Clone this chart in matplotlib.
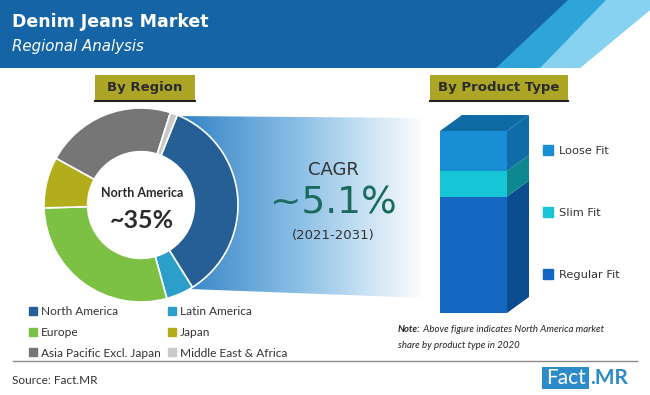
import numpy as np
import matplotlib.pyplot as plt
from matplotlib.patches import Polygon, Rectangle
from matplotlib.lines import Line2D
from matplotlib.colors import LinearSegmentedColormap

# data
regions = ['North America', 'Latin America', 'Europe', 'Japan',
           'Asia Pacific Excl. Japan', 'Middle East & Africa']
region_share = [35.0, 4.6, 28.8, 8.5, 21.9, 1.2]
region_colors = ['#265e96', '#2b9fc9', '#7cc143', '#b3ad1b', '#767676', '#c9c9c9']

products = ['Regular Fit', 'Slim Fit', 'Loose Fit']
product_share = [64, 14, 22]
front_colors = ['#1468c2', '#17c6d6', '#1a8ed4']
side_colors = ['#0b4d8e', '#0d8790', '#0f6ca6']
top_color = '#0f6aa3'

cagr = '~5.1%'
cagr_period = '(2021-2031)'

W, H = 650, 395
fig = plt.figure(figsize=(6.5, 3.95), dpi=100)
bg = fig.add_axes([0, 0, 1, 1])
bg.set_xlim(0, W)
bg.set_ylim(H, 0)
bg.axis('off')

# header band with stripes
bg.add_patch(Rectangle((0, 0), W, 68, color='#1565a6', lw=0, zorder=1))
bg.add_patch(Polygon([[568, 0], [650, 0], [650, 68], [496, 68]], color='#2fa4d8', lw=0, zorder=2))
bg.add_patch(Polygon([[606, 0], [650, 0], [650, 10], [580, 68], [540, 68]], color='#86d2f0', lw=0, zorder=3))
bg.add_patch(Polygon([[650, 10], [650, 68], [580, 68]], color='white', lw=0, zorder=4))
bg.text(12, 22, 'Denim Jeans Market', color='white', fontsize=12.5, fontweight='bold',
        va='center', ha='left', zorder=5)
bg.text(12, 46, 'Regional Analysis', color='white', fontsize=10.8, style='italic',
        va='center', ha='left', zorder=5)

# section boxes
for x0, x1, label in [(95, 195, 'By Region'), (430, 568, 'By Product Type')]:
    bg.add_patch(Rectangle((x0, 75), x1 - x0, 25, color='#aca525', lw=0))
    bg.plot([x0, x1], [101, 101], color='#222222', lw=1.5)
    bg.text((x0 + x1) / 2, 87.5, label, fontsize=9.5, fontweight='bold', color='#2b2b2b',
            ha='center', va='center')

# gradient funnel from North America wedge
cx, cy, R = 141, 205, 97
grad = np.linspace(0, 1, 256).reshape(1, -1)
cmap = LinearSegmentedColormap.from_list('f', ['#2f80c4', '#8cc0e6', '#ffffff'])
im = bg.imshow(grad, cmap=cmap, extent=[175, 425, 300, 112], aspect='auto', zorder=0.5)
funnel = Polygon([[215, 150], [177, 116], [425, 118], [425, 298], [190, 289], [215, 250]],
                 closed=True, transform=bg.transData)
im.set_clip_path(funnel)

bg.text(333, 170, 'CAGR', fontsize=13, color='#333333', ha='center', va='center')
bg.text(333, 203, cagr, fontsize=27, color='#1c6a5e', ha='center', va='center')
bg.text(333, 236, cagr_period, fontsize=9.5, color='#333333', ha='center', va='center')

# donut
pa = fig.add_axes([(cx - R) / W, (H - cy - R) / H, 2 * R / W, 2 * R / H])
pa.pie(region_share, colors=region_colors, startangle=68, counterclock=False,
       radius=1, wedgeprops=dict(width=0.45, edgecolor='white', linewidth=1.2))
pa.set_xlim(-1, 1)
pa.set_ylim(-1, 1)
pa.set_aspect('equal')
pa.axis('off')
pa.text(0.01, 0.12, 'North America', fontsize=9, fontweight='bold', family='Lato',
        color='#2b2b2b', ha='center', va='center')
pa.text(0.01, -0.16, '~35%', fontsize=18, fontweight='bold', family='Lato',
        color='#2b2b2b', ha='center', va='center')

# region legend
order = [0, 2, 4, 1, 3, 5]
handles = [Line2D([], [], marker='s', ls='', markersize=6, color=region_colors[i]) for i in order]
leg1 = bg.legend(handles, [regions[i] for i in order], ncol=2, loc='upper left',
                 bbox_to_anchor=(28 / W, 1 - 306 / H), frameon=False,
                 prop={'family': 'Lato', 'size': 8.6},
                 handlelength=0.8, handletextpad=0.25, columnspacing=0.6, labelspacing=0.82,
                 borderaxespad=0, borderpad=0)
for t in leg1.get_texts():
    t.set_color('#333333')
bg.add_artist(leg1)

bg.plot([13, 637], [361, 361], color='#8a8a8a', lw=1)
bg.text(12, 380, 'Source: Fact.MR', fontsize=8.5, family='Lato', color='#333333', va='center')

# 3D stacked bar
ba = fig.add_axes([440 / W, (H - 313) / H, 90 / W, 198 / H])
bw, dx = 67, 22
dy = 16 * 100 / 182
ba.set_xlim(0, 90)
ba.set_ylim(0, 100 * 198 / 182)
ba.axis('off')
bottom = 0
for share, fc, sc in zip(product_share, front_colors, side_colors):
    ba.bar(0, share, bottom=bottom, width=bw, align='edge', color=fc, lw=0)
    ba.add_patch(Polygon([[bw, bottom], [bw + dx, bottom + dy], [bw + dx, bottom + share + dy],
                          [bw, bottom + share]], color=sc, lw=0))
    bottom += share
ba.add_patch(Polygon([[0, bottom], [bw, bottom], [bw + dx, bottom + dy], [dx, bottom + dy]],
                     color=top_color, lw=0))

phandles = [Line2D([], [], marker='s', ls='', markersize=6.5, color=c) for c in front_colors[::-1]]
leg2 = bg.legend(phandles, products[::-1], loc='upper left', bbox_to_anchor=(543 / W, 1 - 146 / H),
                 frameon=False, fontsize=8.2, handlelength=0.8, handletextpad=0.6,
                 labelspacing=4.55, borderaxespad=0, borderpad=0)
for t in leg2.get_texts():
    t.set_color('#333333')

# note
n1 = bg.text(398, 329, 'Note:', fontsize=6.9, family='Lato', fontweight='bold', style='italic',
             color='#222222', va='center')
bg.annotate(' Above figure indicates North America market', xy=(1, 0.5), xycoords=n1,
            fontsize=6.9, family='Lato', style='italic', color='#222222', va='center')
bg.text(398, 346, 'share by product type in 2020', fontsize=6.9, family='Lato', style='italic',
        color='#222222', va='center')

# logo
bg.add_patch(Rectangle((542, 367), 47, 22, color='#2e8bca', lw=0))
bg.text(565.5, 378.5, 'Fact', fontsize=15, family='Lato', color='white', ha='center', va='center')
bg.text(590, 378.5, '.MR', fontsize=15, family='Lato', fontweight='bold', color='#2e8bca',
        ha='left', va='center')

fig.savefig('out.png', dpi=100)
